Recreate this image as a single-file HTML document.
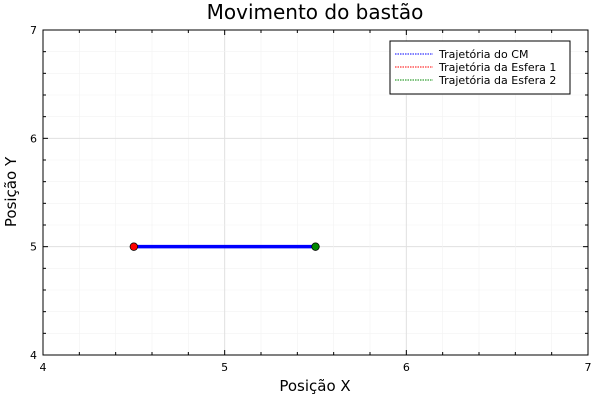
<!DOCTYPE html>
<html><head><meta charset="utf-8"><style>
body{margin:0;background:#fff;}
svg{display:block;font-family:"DejaVu Sans","Liberation Sans",sans-serif;}
</style></head><body>
<svg id="c" width="600" height="400">
<rect width="600" height="400" fill="#fff"/>
<text x="315" y="19" text-anchor="middle" font-size="20">Movimento do bastão</text>
<g id="grid"></g>
<g id="series"></g>
<g id="axes"></g>
<text x="315" y="391" text-anchor="middle" font-size="15">Posição X</text>
<text transform="translate(16,192) rotate(-90)" text-anchor="middle" font-size="15">Posição Y</text>
<g>
<rect x="390" y="41" width="180" height="53" fill="#fff" stroke="#000" stroke-width="1"/>
<line x1="395" y1="54" x2="433" y2="54" stroke="#00f" stroke-dasharray="1.5,1"/>
<text x="439" y="58" font-size="11">Trajetória do CM</text>
<line x1="395" y1="67" x2="433" y2="67" stroke="#f00" stroke-dasharray="1.5,1"/>
<text x="439" y="71" font-size="11">Trajetória da Esfera 1</text>
<line x1="395" y1="80" x2="433" y2="80" stroke="#080" stroke-dasharray="1.5,1"/>
<text x="439" y="84" font-size="11">Trajetória da Esfera 2</text>
</g>
</svg>
<script>
const xTicks=[4,5,6,7];
const yTicks=[4,5,6,7];
const cmX=[4.5,5.5];
const cmY=[5,5];
const esfera1=[4.5,5];
const esfera2=[5.5,5];
const NS="http://www.w3.org/2000/svg";
const L=43,R=588,T=30,B=355;
const sx=v=>L+(v-4)/(7-4)*(R-L);
const sy=v=>B-(v-4)/(7-4)*(B-T);
function mk(p,tag,a){const e=document.createElementNS(NS,tag);for(const k in a)e.setAttribute(k,a[k]);p.appendChild(e);return e;}
const g=document.getElementById('grid'),ax=document.getElementById('axes'),s=document.getElementById('series');
for(let i=0;i<=15;i++){
  const v=4+i*0.2,major=i%5===0;
  const x=sx(v),y=sy(v);
  let l=mk(g,'line',{x1:x,y1:T,x2:x,y2:B,stroke:major?'#e0e0e0':'#f2f2f2','stroke-width':major?1:0.6});
  
  
  l=mk(g,'line',{x1:L,y1:y,x2:R,y2:y,stroke:major?'#e0e0e0':'#f2f2f2','stroke-width':major?1:0.6});
  
  
  const len=major?5:3;
  mk(ax,'line',{x1:x,y1:B,x2:x,y2:B-len,stroke:'#000'});
  mk(ax,'line',{x1:x,y1:T,x2:x,y2:T+len,stroke:'#000'});
  mk(ax,'line',{x1:L,y1:y,x2:L+len,y2:y,stroke:'#000'});
  mk(ax,'line',{x1:R,y1:y,x2:R-len,y2:y,stroke:'#000'});
}
mk(ax,'rect',{x:L,y:T,width:R-L,height:B-T,fill:'none',stroke:'#000','stroke-width':1});
xTicks.forEach(v=>{const t=mk(ax,'text',{x:sx(v),y:B+16,'text-anchor':'middle','font-size':11});t.textContent=v;

});
yTicks.forEach(v=>{const t=mk(ax,'text',{x:L-6,y:sy(v)+4,'text-anchor':'end','font-size':11});t.textContent=v;

});
const ln=mk(s,'line',{x1:sx(cmX[0]),y1:sy(cmY[0]),x2:sx(cmX[1]),y2:sy(cmY[1]),stroke:'#00f','stroke-width':3.5});


const p1=mk(s,'circle',{cx:sx(esfera1[0]),cy:sy(esfera1[1]),r:3.8,fill:'#f00',stroke:'#000','stroke-width':0.8});


const p2=mk(s,'circle',{cx:sx(esfera2[0]),cy:sy(esfera2[1]),r:3.8,fill:'#080',stroke:'#000','stroke-width':0.8});


</script>
</body></html>
